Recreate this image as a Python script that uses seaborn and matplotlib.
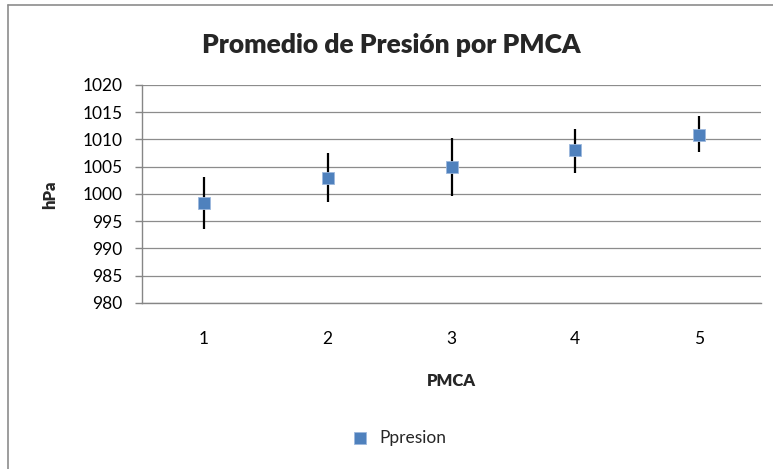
import matplotlib
matplotlib.use("Agg")
import matplotlib.pyplot as plt
import seaborn as sns
import pandas as pd
from matplotlib.lines import Line2D

# data
pmca = [1, 2, 3, 4, 5]
ppresion = [998.4, 1003.0, 1004.9, 1008.0, 1010.9]
err_low = [4.8, 4.5, 5.3, 4.1, 3.2]
err_high = [4.7, 4.5, 5.4, 3.9, 3.4]

df = pd.DataFrame({"PMCA": pmca, "Ppresion": ppresion})

sns.set_theme(style="white")
plt.rcParams["font.family"] = ["Lato", "DejaVu Sans"]

fig = plt.figure(figsize=(7.73, 4.69), dpi=100)
ax = fig.add_axes([0.1837, 0.354, 0.8008, 0.4648])

ax.errorbar(df["PMCA"], df["Ppresion"], yerr=[err_low, err_high],
            fmt="none", ecolor="black", elinewidth=1.6, capsize=0, zorder=2)
sns.scatterplot(data=df, x="PMCA", y="Ppresion", marker="s", s=85,
                color="#4F81BD", edgecolor="#9DB9DE", linewidth=0.6,
                ax=ax, zorder=3, label="Ppresion")

ax.set_xlim(0.5, 5.5)
ax.set_ylim(980, 1020)
ax.set_yticks(range(980, 1021, 5))
ax.set_xticks(pmca)
ax.set_xticks([0.5, 1.5, 2.5, 3.5, 4.5, 5.5], minor=True)
ax.tick_params(axis="x", which="major", length=0, labelsize=12.5, pad=20, colors="black")
ax.tick_params(axis="x", which="minor", length=5, width=1, color="#868686", direction="out")
ax.tick_params(axis="y", length=5, width=1, color="#868686", direction="out",
               labelsize=12.5, pad=9, left=True, labelcolor="black")
ax.grid(axis="y", color="#8c8c8c", linewidth=0.9)
ax.set_axisbelow(True)
for side in ["top", "right"]:
    ax.spines[side].set_visible(False)
for side in ["left", "bottom"]:
    ax.spines[side].set_color("#868686")
    ax.spines[side].set_linewidth(1)

ax.set_xlabel("PMCA", fontsize=12, fontweight="heavy", va="center")
ax.xaxis.set_label_coords(0.5, -0.358)
ax.set_ylabel("hPa", fontsize=12, fontweight="heavy", va="center")
ax.yaxis.set_label_coords(-0.149, 0.495)
fig.text(0.506, 0.904, "Promedio de Presión por PMCA", ha="center", va="center",
         fontsize=19, fontweight="heavy")

ax.legend(loc="center", bbox_to_anchor=(0.51, 0.066), bbox_transform=fig.transFigure,
          frameon=False, fontsize=12.5, handletextpad=0.1, markerscale=0.95)

# chart-area border (only top and left visible in the reference)
fig.lines.append(Line2D([8 / 773, 1.0], [1 - 5 / 469, 1 - 5 / 469], transform=fig.transFigure,
                        color="#8c8c8c", linewidth=1.2))
fig.lines.append(Line2D([8 / 773, 8 / 773], [0.0, 1 - 5 / 469], transform=fig.transFigure,
                        color="#8c8c8c", linewidth=1.2))

fig.savefig("out.png", dpi=100)
